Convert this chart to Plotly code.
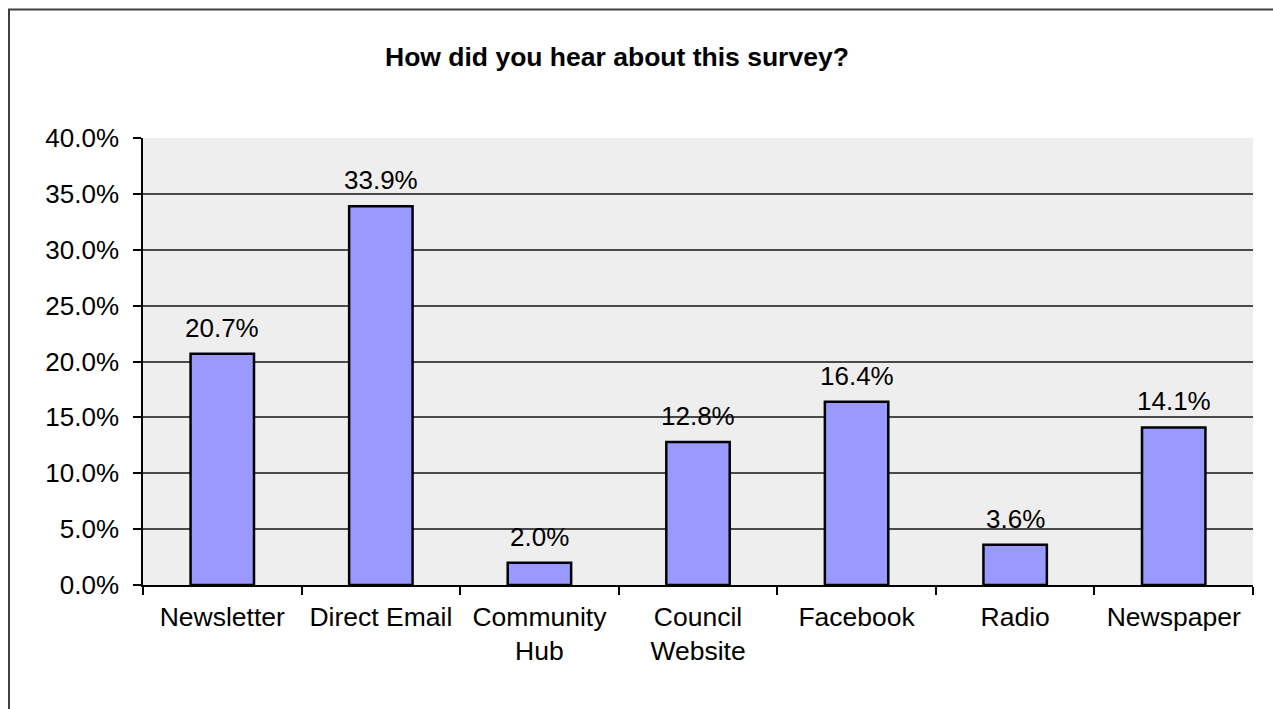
import plotly.graph_objects as go

categories = ["Newsletter", "Direct Email", "Community<br>Hub", "Council<br>Website",
              "Facebook", "Radio", "Newspaper"]
values = [20.7, 33.9, 2.0, 12.8, 16.4, 3.6, 14.1]
y_ticks = [0, 5, 10, 15, 20, 25, 30, 35, 40]
title_text = "How did you hear about this survey?"

FONT = "Liberation Sans, Arial, sans-serif"
W, H = 1273, 709
L, R, T, B = 143, 20, 138, 124
pw, ph = W - L - R, H - T - B

fig = go.Figure(go.Bar(
    x=categories, y=values, width=0.4,
    marker=dict(color="#9999FF", line=dict(color="#000000", width=2.5)),
    cliponaxis=False,
))

for c, v in zip(categories, values):
    fig.add_annotation(
        x=c, y=v, text=f"{v:.1f}%", showarrow=False, xanchor="center", yanchor="middle",
        yshift=26, font=dict(family=FONT, size=26, color="#000000"),
    )

fig.update_layout(
    width=W, height=H, margin=dict(l=L, r=R, t=T, b=B, pad=0),
    paper_bgcolor="#FFFFFF", plot_bgcolor="#EEEEEE",
    font=dict(family=FONT, size=26, color="#000000"),
    showlegend=False,
    bargap=0.6,
)
fig.update_xaxes(
    type="category", tickson="boundaries", ticks="outside", ticklen=8,
    tickcolor="#000000", tickwidth=1.5, showline=True, linecolor="#000000", linewidth=1.5,
    showgrid=False, tickfont=dict(family=FONT, size=26.5, color="#000000"),
    ticklabelstandoff=7, mirror=False,
)
fig.update_yaxes(
    range=[0, 40], tickvals=y_ticks, ticktext=[f"{v:.1f}%" for v in y_ticks],
    ticks="outside", ticklen=8, tickcolor="#000000", tickwidth=1.5,
    showline=True, linecolor="#000000", linewidth=1.5,
    showgrid=True, gridcolor="#4a4a4a", gridwidth=1.5, zeroline=False,
    tickfont=dict(family=FONT, size=26, color="#000000"), ticklabelstandoff=9,
)

def px_x(p):
    return (p - L) / pw

def px_y(p):
    return (H - B - p) / ph

fig.add_annotation(
    text="<b>" + title_text + "</b>", xref="paper", yref="paper",
    x=px_x(617), y=px_y(57), showarrow=False, xanchor="center", yanchor="middle",
    font=dict(family=FONT, size=26.5, color="#000000"),
)
fig.add_shape(
    type="rect", xref="paper", yref="paper",
    x0=px_x(9), x1=px_x(1300), y0=px_y(740), y1=px_y(9.5),
    line=dict(color="#404040", width=2), fillcolor="rgba(0,0,0,0)", layer="above",
)

fig.write_html("out.html")
